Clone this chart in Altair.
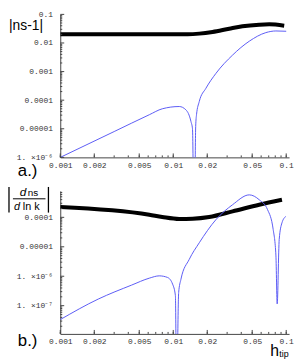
import altair as alt
import pandas as pd

# ---------------- data ----------------
# panel a.)  |ns - 1|
a_black_x = [0.001, 0.003, 0.0134, 0.017, 0.0223, 0.0313, 0.041, 0.0577, 0.0708, 0.096]
a_black_y = [0.0202, 0.0202, 0.0202, 0.0212, 0.0243, 0.0316, 0.0383, 0.0435, 0.045, 0.0402]

a_blue_x = [0.001, 0.003, 0.00614, 0.008, 0.0113, 0.01294, 0.01435, 0.0148, 0.01535,
            0.0158, 0.01607, 0.017, 0.01946, 0.0239, 0.0335, 0.0471, 0.066, 0.081, 0.1]
a_blue_y = [1.0e-6, 8.0e-6, 3.1e-5, 5.0e-5, 6.0e-5, 4.6e-5, 1.8e-5, 1.0e-5, 1.0e-9,
            1.2e-5, 3.1e-5, 9.0e-5, 2.6e-4, 8.7e-4, 3.77e-3, 0.01153, 0.023, 0.0263, 0.0257]

# panel b.)  |d ns / d ln k|
b_black_x = [0.001, 0.00614, 0.008, 0.0113, 0.01483, 0.0208, 0.0335, 0.0577, 0.0917]
b_black_y = [2.24e-4, 1.23e-4, 1.03e-4, 8.8e-5, 9.0e-5, 1.03e-4, 1.59e-4, 2.68e-4, 3.95e-4]

b_blue_x = [0.001, 0.00217, 0.00428, 0.00614, 0.00752, 0.0089, 0.00987, 0.01045, 0.0107,
            0.01117, 0.0117, 0.01386, 0.017, 0.0239, 0.0335, 0.0471, 0.0577, 0.0684,
            0.0767, 0.0811, 0.0832, 0.0867, 0.0917, 0.0993]
b_blue_y = [3.37e-8, 1.68e-7, 5.0e-7, 8.6e-7, 1.03e-6, 9.1e-7, 5.4e-7, 2.2e-7, 1.0e-10,
            2.8e-7, 7.9e-7, 3.75e-6, 1.37e-5, 8.4e-5, 2.68e-4, 5.8e-4, 3.95e-4, 1.82e-4,
            3.85e-5, 4.9e-6, 1.15e-7, 1.78e-5, 6.5e-5, 1.08e-4]

# ticks and tick labels
x_tick_values = [0.001, 0.002, 0.005, 0.01, 0.02, 0.05, 0.1]
x_tick_labels = ["0.001", "0.002", "0.005", "0.01", "0.02", "0.05", "0.1"]
x_minor_values = [0.001, 0.002, 0.003, 0.004, 0.005, 0.006, 0.007, 0.008, 0.009,
                  0.01, 0.02, 0.03, 0.04, 0.05, 0.06, 0.07, 0.08, 0.09, 0.1]

a_y_tick_values = [1e-6, 1e-5, 1e-4, 1e-3, 1e-2, 1e-1]
a_y_tick_labels = ["1. ×10⁻⁶", "0.00001", "0.0001", "0.001", "0.01", "0.1"]
a_y_minor_values = [2e-6, 3e-6, 4e-6, 5e-6, 6e-6, 7e-6, 8e-6, 9e-6,
                    2e-5, 3e-5, 4e-5, 5e-5, 6e-5, 7e-5, 8e-5, 9e-5,
                    2e-4, 3e-4, 4e-4, 5e-4, 6e-4, 7e-4, 8e-4, 9e-4,
                    2e-3, 3e-3, 4e-3, 5e-3, 6e-3, 7e-3, 8e-3, 9e-3,
                    0.02, 0.03, 0.04, 0.05, 0.06, 0.07, 0.08, 0.09]

b_y_tick_values = [1e-7, 1e-6, 1e-5, 1e-4]
b_y_tick_labels = ["1. ×10⁻⁷", "1. ×10⁻⁶", "0.00001", "0.0001"]
b_y_minor_values = [2e-8, 3e-8, 4e-8, 5e-8, 6e-8, 7e-8, 8e-8, 9e-8,
                    2e-7, 3e-7, 4e-7, 5e-7, 6e-7, 7e-7, 8e-7, 9e-7,
                    2e-6, 3e-6, 4e-6, 5e-6, 6e-6, 7e-6, 8e-6, 9e-6,
                    2e-5, 3e-5, 4e-5, 5e-5, 6e-5, 7e-5, 8e-5, 9e-5,
                    2e-4, 3e-4, 4e-4, 5e-4, 6e-4, 7e-4]

X_DOMAIN = [0.001, 0.106]
A_Y_DOMAIN = [1e-6, 0.1]
B_Y_DOMAIN = [1.1e-8, 7.9e-4]

# ---------------- styling ----------------
W = 232
H = 145
BLUE = "#5b5bf5"
AXC = "#444444"
TICKFONT = "Liberation Mono"
TXTFONT = "Liberation Sans"
ONE = alt.Data(values=[{"k": 0}])


def label_expr(vals, labs):
    expr = "''"
    for v, lab in zip(vals, labs):
        expr = "abs(datum.value - %r) < %r ? '%s' : (%s)" % (v, v * 1e-3, lab, expr)
    return expr


def txt(s, x, y, size, align="left", baseline="alphabetic", italic=False):
    return alt.Chart(ONE).mark_text(
        text=s, align=align, baseline=baseline, fontSize=size, font=TXTFONT,
        fontStyle="italic" if italic else "normal", color="black"
    ).encode(x=alt.value(x), y=alt.value(y))


def vline(x, y1, y2, w=1.3):
    return alt.Chart(ONE).mark_rule(color="black", strokeWidth=w).encode(
        x=alt.value(x), y=alt.value(y1), y2=alt.value(y2))


def hline(x1, x2, y, w=1.0):
    return alt.Chart(ONE).mark_rule(color="black", strokeWidth=w).encode(
        x=alt.value(x1), x2=alt.value(x2), y=alt.value(y))


def panel(bx, by, ux, uy, ydom, yvals, ylabs, yminor, annotations):
    xs = alt.Scale(type="log", domain=X_DOMAIN, nice=False)
    ys = alt.Scale(type="log", domain=ydom, nice=False)
    xaxis = alt.Axis(values=x_tick_values, labelExpr=label_expr(x_tick_values, x_tick_labels),
                     ticks=False, tickSize=0, grid=False, domainColor=AXC, domainWidth=1,
                     labelFont=TICKFONT, labelFontSize=8, labelColor="#333333",
                     labelPadding=4, labelFlush=False, labelOverlap=False, title=None)
    yaxis = alt.Axis(values=yvals, labelExpr=label_expr(yvals, ylabs),
                     ticks=False, tickSize=0, grid=False, domainColor=AXC, domainWidth=1,
                     labelFont=TICKFONT, labelFontSize=8, labelColor="#333333",
                     labelPadding=8, labelFlush=False, labelOverlap=False, title=None)

    X = lambda: alt.X("x:Q", scale=xs, axis=xaxis)
    Y = lambda: alt.Y("y:Q", scale=ys, axis=yaxis)

    black = alt.Chart(pd.DataFrame({"x": bx, "y": by})).mark_line(
        color="black", strokeWidth=4, interpolate="monotone", clip=True
    ).encode(x=X(), y=Y())

    blue = alt.Chart(pd.DataFrame({"x": ux, "y": uy})).mark_line(
        color=BLUE, strokeWidth=1, interpolate="monotone", clip=True
    ).encode(x=X(), y=Y())

    xmin = alt.Chart(pd.DataFrame({"x": x_minor_values})).mark_rule(
        color=AXC, strokeWidth=1).encode(x=X(), y=alt.value(H), y2=alt.value(H - 2))
    xmaj = alt.Chart(pd.DataFrame({"x": x_tick_values})).mark_rule(
        color=AXC, strokeWidth=1).encode(x=X(), y=alt.value(H), y2=alt.value(H - 4))
    ymin = alt.Chart(pd.DataFrame({"y": yminor})).mark_rule(
        color=AXC, strokeWidth=1).encode(y=Y(), x=alt.value(0), x2=alt.value(2))
    ymaj = alt.Chart(pd.DataFrame({"y": yvals})).mark_rule(
        color=AXC, strokeWidth=1).encode(y=Y(), x=alt.value(0), x2=alt.value(4))

    return alt.layer(black, blue, xmin, xmaj, ymin, ymaj, *annotations).properties(
        width=W, height=H)


top = panel(
    a_black_x, a_black_y, a_blue_x, a_blue_y, A_Y_DOMAIN,
    a_y_tick_values, a_y_tick_labels, a_y_minor_values,
    [
        txt("|ns-1|", -52, 12, 14, baseline="middle"),
        txt("a.)", -43, 164, 17),
    ],
)

bottom = panel(
    b_black_x, b_black_y, b_blue_x, b_blue_y, B_Y_DOMAIN,
    b_y_tick_values, b_y_tick_labels, b_y_minor_values,
    [
        vline(-52, -4, 22),
        vline(-12, -4, 22),
        txt("d", -41, 5, 12, italic=True),
        txt("ns", -33, 5, 10),
        hline(-48, -15, 8),
        txt("d", -47, 19, 11, italic=True),
        txt("ln k", -38, 19, 11),
        txt("b.)", -43, 157, 17),
        txt("h", 213, 167, 16),
        txt("tip", 222, 168, 9),
    ],
)

chart = alt.vconcat(top, bottom, spacing=34, bounds="flush").properties(
    padding=0
).configure_view(stroke=None)

chart.save("out.html", embed_options={"renderer": "svg", "actions": False})
